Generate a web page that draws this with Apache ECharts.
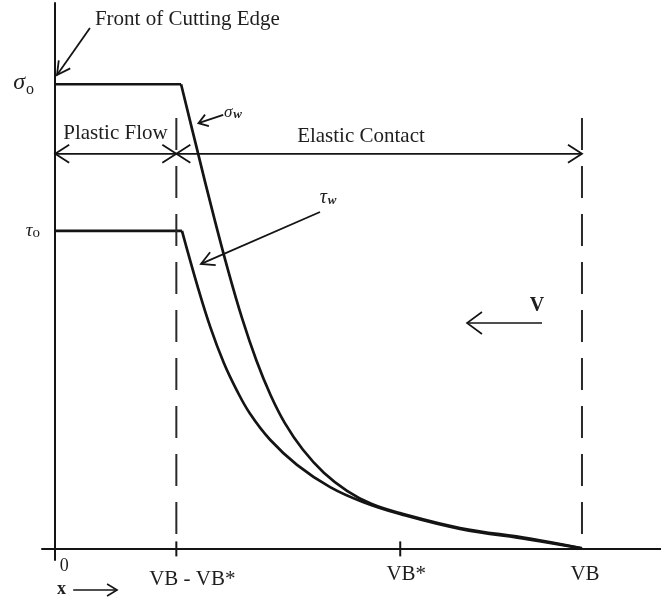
<!DOCTYPE html>
<html>
<head>
<meta charset="utf-8">
<script src="https://cdn.jsdelivr.net/npm/echarts@6/dist/echarts.min.js"></script>
<style>
  html, body { margin: 0; padding: 0; background: #ffffff; }
  #chart { width: 661px; height: 600px; }
</style>
</head>
<body>
<div id="chart"></div>
<script>
// Normal (sigma) and shear (tau) stress along the flank wear land.
// x runs from the cutting edge (0) to the end of the wear land (VB).

const VB = 100;          // end of the wear land
const VB_PLASTIC = 23;   // VB - VB*: end of the plastic-flow zone
const VB_STAR = 65.5;    // VB*
const SIGMA_0 = 100;     // normal stress in the plastic zone
const TAU_0 = 68.4;      // shear stress in the plastic zone
const ZONE_TOP = 92.7;   // top of the dashed zone boundaries
const ZONE_ARROW = 85;   // height of the Plastic Flow / Elastic Contact arrows

const xTickValues = [0, VB_PLASTIC, VB_STAR, VB];
const xTickLabels = ['0', 'VB - VB*', 'VB*', 'VB'];
const crossTicks = [VB_PLASTIC, VB_STAR];

// sigma_w: flat at sigma_0, then decaying to zero at VB
const sigmaFlatX = [0, 23.9];
const sigmaFlatY = [SIGMA_0, SIGMA_0];
const sigmaDecayX = [23.9, 27.1, 30.0, 32.8, 35.5, 38.2, 40.9, 43.6, 47.0, 51.0, 55.4, 60.0, 65.45, 76.84, 90.13, 100];
const sigmaDecayY = [100, 85.2, 72.0, 60.0, 49.5, 40.5, 33.0, 27.0, 21.3, 16.3, 12.4, 9.6, 7.6, 4.4, 2.1, 0];

// tau_w: flat at tau_0, then decaying to zero at VB
const tauFlatX = [0, 24.07];
const tauFlatY = [TAU_0, TAU_0];
const tauDecayX = [24.07, 27.07, 29.5, 32.0, 34.5, 37.0, 40.8, 45.9, 52.2, 58.4, 65.45, 76.84, 90.1, 100];
const tauDecayY = [68.4, 56.3, 47.5, 40.0, 34.0, 29.0, 23.4, 18.0, 13.2, 10.0, 7.4, 4.2, 1.9, 0];

// Annotation arrows (data units): from tail to tip
const arrows = [
  { kind: 'pointer', from: [6.6, 112.1], to: [0.35, 102.0], both: false },
  { kind: 'small',   from: [31.9, 93.4], to: [27.2, 91.6], both: false },
  { kind: 'pointer', from: [50.27, 72.47], to: [27.68, 61.29], both: false },
  { kind: 'span',    from: [0, ZONE_ARROW], to: [VB_PLASTIC, ZONE_ARROW], both: true },
  { kind: 'span',    from: [VB_PLASTIC, ZONE_ARROW], to: [VB, ZONE_ARROW], both: true },
  { kind: 'big',     from: [92.41, 48.56], to: [78.17, 48.56], both: false },
  { kind: 'tiny',    from: [3.42, -8.96], to: [11.75, -8.96], both: false }
];

// Annotation texts (data units)
const notes = [
  { text: 'Front of Cutting Edge', at: [7.55, 114.05], align: 'left' },
  { text: 'Plastic Flow', at: [11.45, 89.4], align: 'center' },
  { text: 'Elastic Contact', at: [58.05, 88.7], align: 'center' },
  { text: '{g|σ}{w|w}', at: [32.04, 94.0], align: 'left' },
  { text: '{t|τ}{w|w}', at: [50.2, 75.6], align: 'left' },
  { text: '{v|V}', at: [91.46, 52.3], align: 'center' },
  { text: '{x|x}', at: [0.34, -8.9], align: 'left' }
];

const INK = '#141414';
const TEXT = '#1e1e1e';
const SERIF = '"Liberation Serif", "DejaVu Serif", serif';

const headStyle = {
  pointer: { len: 13, half: 7, width: 1.8 },
  small:   { len: 9,  half: 6, width: 1.8 },
  span:    { len: 14, half: 9, width: 1.8 },
  big:     { len: 15, half: 11, width: 1.6 },
  tiny:    { len: 10, half: 6, width: 1.6 }
};

const noteRich = {
  g: { fontFamily: SERIF, fontStyle: 'italic', fontSize: 17, color: TEXT },
  t: { fontFamily: SERIF, fontStyle: 'italic', fontSize: 20, color: TEXT },
  w: { fontFamily: SERIF, fontStyle: 'italic', fontWeight: 'bold', fontSize: 13, color: TEXT, verticalAlign: 'bottom', padding: [6, 0, 0, 1] },
  v: { fontFamily: SERIF, fontWeight: 'bold', fontSize: 20, color: TEXT },
  x: { fontFamily: SERIF, fontWeight: 'bold', fontSize: 18, color: TEXT }
};

function pairs(xs, ys) {
  return xs.map(function (x, i) { return [x, ys[i]]; });
}

function headPoints(tip, tail, st) {
  const dx = tail[0] - tip[0], dy = tail[1] - tip[1];
  const d = Math.hypot(dx, dy) || 1;
  const ux = dx / d, uy = dy / d, nx = -uy, ny = ux;
  return [
    [tip[0] + ux * st.len + nx * st.half, tip[1] + uy * st.len + ny * st.half],
    [tip[0], tip[1]],
    [tip[0] + ux * st.len - nx * st.half, tip[1] + uy * st.len - ny * st.half]
  ];
}

const curveLine = { color: INK, width: 2.7 };

const chart = echarts.init(document.getElementById('chart'));

chart.setOption({
  animation: false,
  backgroundColor: '#ffffff',
  grid: { left: 42, right: 0, top: 3, bottom: 40 },
  xAxis: {
    type: 'value',
    min: -2.5,
    max: 115,
    axisLine: { onZero: true, lineStyle: { color: INK, width: 2 } },
    axisTick: { show: false },
    splitLine: { show: false },
    axisLabel: {
      customValues: xTickValues,
      margin: -3,
      color: TEXT,
      formatter: function (v) {
        const i = xTickValues.indexOf(v);
        const keys = ['zero', 'vbm', 'vbs', 'vb'];
        return '{' + keys[i] + '|' + xTickLabels[i] + '}';
      },
      rich: {
        zero: { fontFamily: SERIF, fontSize: 18, color: TEXT, padding: [0, 0, 0, 18] },
        vbm: { fontFamily: SERIF, fontSize: 21, color: TEXT, padding: [12, 0, 0, 32] },
        vbs: { fontFamily: SERIF, fontSize: 21, color: TEXT, padding: [7, 0, 0, 12] },
        vb: { fontFamily: SERIF, fontSize: 21, color: TEXT, padding: [7, 0, 0, 6] }
      }
    }
  },
  yAxis: {
    type: 'value',
    min: -2.5,
    max: 117.5,
    axisLine: { onZero: true, lineStyle: { color: INK, width: 2 } },
    axisTick: { show: false },
    splitLine: { show: false },
    axisLabel: {
      customValues: [SIGMA_0, TAU_0],
      margin: 2,
      formatter: function (v) {
        return v === SIGMA_0 ? '{s|σ}{so|o}' : '{t|τ}{to|o}';
      },
      rich: {
        s: { fontFamily: SERIF, fontStyle: 'italic', fontSize: 24, color: TEXT, padding: [0, 0, 4, 0] },
        so: { fontFamily: SERIF, fontSize: 16, color: TEXT, verticalAlign: 'bottom', padding: [0, 6, 0, 1] },
        t: { fontFamily: SERIF, fontStyle: 'italic', fontSize: 19, color: TEXT },
        to: { fontFamily: SERIF, fontSize: 15, color: TEXT, verticalAlign: 'bottom', padding: [4, 0, 0, 0] }
      }
    }
  },
  series: [
    { name: 'sigma flat', type: 'line', data: pairs(sigmaFlatX, sigmaFlatY), symbol: 'none', lineStyle: curveLine, silent: true },
    { name: 'sigma_w', type: 'line', data: pairs(sigmaDecayX, sigmaDecayY), symbol: 'none', smooth: 0.4, lineStyle: curveLine, silent: true },
    { name: 'tau flat', type: 'line', data: pairs(tauFlatX, tauFlatY), symbol: 'none', lineStyle: curveLine, silent: true },
    { name: 'tau_w', type: 'line', data: pairs(tauDecayX, tauDecayY), symbol: 'none', smooth: 0.4, lineStyle: curveLine, silent: true },
    { name: 'plastic boundary', type: 'line', data: [[VB_PLASTIC, ZONE_TOP], [VB_PLASTIC, 0]], symbol: 'none',
      lineStyle: { color: '#2a2a2a', width: 2, type: [32, 16] }, silent: true },
    { name: 'wear land end', type: 'line', data: [[VB, ZONE_TOP], [VB, 0]], symbol: 'none',
      lineStyle: { color: '#2a2a2a', width: 2, type: [32, 16] }, silent: true },
    {
      name: 'ticks', type: 'custom', clip: false, silent: true,
      data: crossTicks.map(function (v) { return [v, 0]; }),
      renderItem: function (params, api) {
        const p = api.coord([api.value(0), api.value(1)]);
        return { type: 'line', shape: { x1: p[0], y1: p[1] - 7, x2: p[0], y2: p[1] + 8 },
                 style: { stroke: INK, lineWidth: 2 } };
      }
    },
    {
      name: 'arrows', type: 'custom', clip: false, silent: true,
      data: arrows.map(function (a) { return [a.from[0], a.from[1], a.to[0], a.to[1]]; }),
      renderItem: function (params, api) {
        const a = arrows[params.dataIndex];
        const st = headStyle[a.kind];
        const p = api.coord([api.value(0), api.value(1)]);
        const q = api.coord([api.value(2), api.value(3)]);
        const stroke = { stroke: INK, lineWidth: st.width, fill: null };
        const children = [
          { type: 'line', shape: { x1: p[0], y1: p[1], x2: q[0], y2: q[1] }, style: stroke },
          { type: 'polyline', shape: { points: headPoints(q, p, st) }, style: stroke }
        ];
        if (a.both) {
          children.push({ type: 'polyline', shape: { points: headPoints(p, q, st) }, style: stroke });
        }
        return { type: 'group', children: children };
      }
    },
    {
      name: 'notes', type: 'custom', clip: false, silent: true,
      data: notes.map(function (n) { return n.at; }),
      renderItem: function (params, api) {
        const n = notes[params.dataIndex];
        const p = api.coord([api.value(0), api.value(1)]);
        return {
          type: 'text', x: p[0], y: p[1],
          style: {
            text: n.text, fill: TEXT, fontFamily: SERIF, fontSize: 21,
            align: n.align, verticalAlign: 'middle', rich: noteRich
          }
        };
      }
    }
  ]
});
</script>
</body>
</html>
